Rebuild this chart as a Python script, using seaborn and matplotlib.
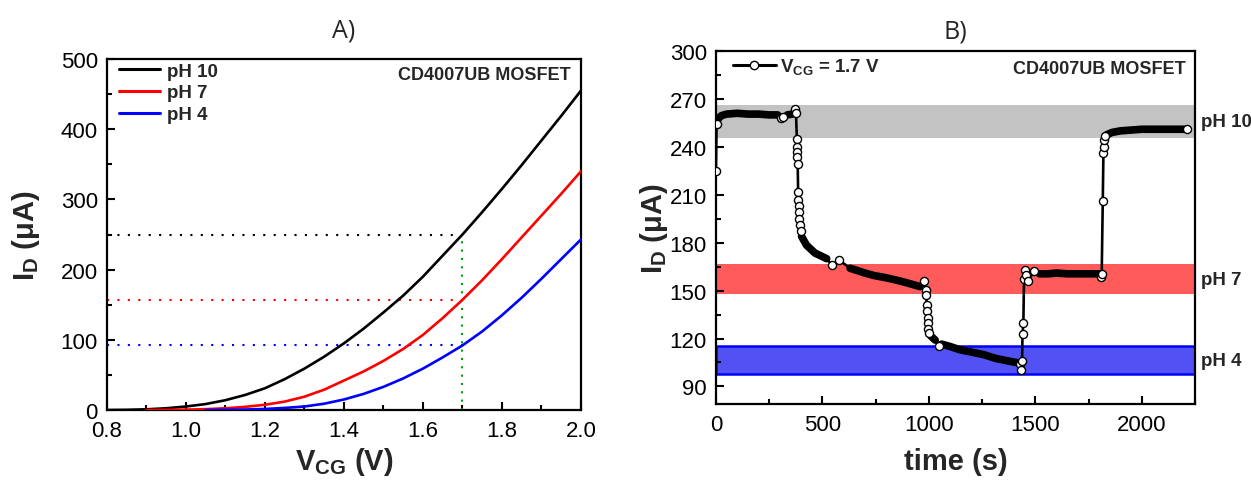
import numpy as np
import pandas as pd
import matplotlib
matplotlib.use("Agg")
import matplotlib.pyplot as plt
from matplotlib.lines import Line2D
from matplotlib.ticker import MultipleLocator
import matplotlib.transforms as mtransforms
import seaborn as sns

# ---------------- Panel A: transfer curves ----------------
v_cg = [0.80, 0.85, 0.90, 0.95, 1.00, 1.05, 1.10, 1.15, 1.20, 1.25, 1.30, 1.35, 1.40,
        1.45, 1.50, 1.55, 1.60, 1.65, 1.70, 1.75, 1.80, 1.85, 1.90, 1.95, 2.00]
id_ph10 = [0.0, 0.3, 1.0, 2.5, 5.0, 8.5, 14, 21.5, 31, 44, 59, 76, 95,
           116, 139, 163, 190, 220, 250, 282, 315, 349, 384, 419, 455]
id_ph7 = [np.nan, np.nan, 0.0, 0.2, 0.5, 1.2, 2.5, 4.5, 7.5, 12, 19, 29, 42,
          55, 70, 87, 107, 131, 157, 185, 215, 246, 277, 308, 340]
id_ph4 = [np.nan, np.nan, np.nan, np.nan, np.nan, 0.0, 0.3, 0.7, 1.5, 3, 5, 9, 15,
          23, 33, 45, 59, 75, 92, 112, 135, 160, 187, 215, 243]
ph_labels = ["pH 10", "pH 7", "pH 4"]
ph_colors = {"pH 10": "black", "pH 7": "#ff0000", "pH 4": "#0000ff"}
v_read = 1.7
id_at_read = [250, 157, 92]

# ---------------- Panel B: time trace at V_CG = 1.7 V ----------------
time_s = [0, 3, 10, 25, 50, 100, 150, 200, 250, 290, 305, 315, 335, 360, 372, 376,
          380, 381, 382, 383, 384, 386, 387, 388, 390, 392, 395, 398,
          402, 425, 465, 520, 545, 566, 580, 630, 700, 740, 800, 865, 920, 958,
          978, 985, 988, 990, 992, 994, 996, 998, 1001,
          1010, 1030, 1048, 1060, 1100, 1145, 1200, 1255, 1315, 1370, 1410,
          1430, 1435, 1438, 1440, 1444, 1447, 1450, 1455, 1465,
          1480, 1495, 1520, 1560, 1600, 1650, 1700, 1750, 1800,
          1808, 1812, 1817, 1820, 1822, 1824, 1827,
          1835, 1860, 1900, 1950, 2000, 2100, 2200, 2212]
current_uA = [225, 254, 257.5, 259.5, 260.5, 261, 260.5, 260.5, 260, 260, 258, 258.5, 260, 260.5, 263.5, 261,
              245, 240, 237, 233.5, 229, 212, 207, 203, 199, 195, 191, 187,
              184, 178.5, 173.5, 170, 166, 167, 169, 164, 161, 159.5, 158, 156, 154, 152.5,
              156, 150.5, 147, 141, 137, 133, 129.5, 126, 123.5,
              121.5, 119, 115, 116.5, 115, 113, 111.5, 110, 107.5, 106, 105,
              104, 100, 106, 123, 129.5, 157, 163, 160, 156,
              159, 162.5, 160.5, 160.5, 161, 160.5, 160.5, 160.5, 160.5,
              158.5, 160.5, 206, 236, 240, 244.5, 247,
              247.5, 249, 250, 250.5, 251, 251, 251, 251]
phase = (["transient"] * 2 + ["steady"] * 8 + ["transient"] * 2 + ["steady"] * 2 + ["transient"] * 14
         + ["steady"] * 4 + ["transient"] + ["steady"] + ["transient"] + ["steady"] * 7
         + ["transient"] * 9
         + ["steady"] * 2 + ["transient"] + ["steady"] * 8
         + ["transient"] * 9
         + ["steady"] + ["transient"] + ["steady"] * 7
         + ["transient"] * 7
         + ["steady"] * 7 + ["transient"])
band_labels = ["pH 10", "pH 7", "pH 4"]
band_low = [245.5, 148.0, 97.5]
band_high = [266.0, 166.5, 115.0]

# ---------------- style ----------------
sns.set_style("white")
plt.rcParams["font.family"] = ["Liberation Sans", "DejaVu Sans"]
plt.rcParams["mathtext.fontset"] = "custom"
plt.rcParams["mathtext.rm"] = "Liberation Sans"
plt.rcParams["mathtext.it"] = "Liberation Sans:italic"
plt.rcParams["mathtext.bf"] = "Liberation Sans:bold"

fig = plt.figure(figsize=(12.51, 4.81), dpi=100)
axA = fig.add_axes([0.0855, 0.1455, 0.3789, 0.7297])
axB = fig.add_axes([0.5723, 0.1580, 0.3829, 0.7339])

tick_fs = 16
label_fs = 21

# ---- Panel A ----
dfA = pd.DataFrame({
    "V": v_cg * 3,
    "I": id_ph10 + id_ph7 + id_ph4,
    "pH": [ph_labels[0]] * len(v_cg) + [ph_labels[1]] * len(v_cg) + [ph_labels[2]] * len(v_cg),
}).dropna()
sns.lineplot(data=dfA, x="V", y="I", hue="pH", hue_order=ph_labels, palette=ph_colors,
             estimator=None, sort=True, lw=1.9, ax=axA, zorder=3)

for lab, val in zip(ph_labels, id_at_read):
    axA.plot([0.8, v_read], [val, val], color=ph_colors[lab], lw=1.5,
             linestyle=(0, (1, 4)), zorder=2)
axA.plot([v_read, v_read], [0, id_at_read[0]], color="#00a000", lw=1.5,
         linestyle=(0, (1, 3)), zorder=2)

axA.set_xlim(0.8, 2.0)
axA.set_ylim(0, 500)
axA.xaxis.set_major_locator(MultipleLocator(0.2))
axA.xaxis.set_minor_locator(MultipleLocator(0.1))
axA.yaxis.set_major_locator(MultipleLocator(100))
axA.yaxis.set_minor_locator(MultipleLocator(50))

handles, labels = axA.get_legend_handles_labels()
for h in handles:
    h.set_linewidth(2.2)
axA.legend(handles, labels, loc="upper left", bbox_to_anchor=(0.025, 0.99), frameon=False,
           prop={"weight": "bold", "size": 13.5}, handlelength=2.2, handletextpad=0.35,
           labelspacing=0.25, borderaxespad=0, borderpad=0)
axA.text(0.979, 0.957, "CD4007UB MOSFET", transform=axA.transAxes, ha="right", va="center",
         fontsize=13, fontweight="bold")
axA.set_xlabel(r"$\mathbf{V_{CG}}$ (V)", fontsize=label_fs, fontweight="bold")
axA.set_ylabel(r"$\mathbf{I_D}$ (μA)", fontsize=label_fs, fontweight="bold")
axA.set_title("A)", fontsize=18, family=["Open Sans", "DejaVu Sans"], pad=16)

# ---- Panel B ----
for lo, hi, lab in zip(band_low, band_high, band_labels):
    if lab == "pH 10":
        axB.axhspan(lo, hi, facecolor="#c3c3c3", edgecolor="none", zorder=0)
    elif lab == "pH 7":
        axB.axhspan(lo, hi, facecolor="#ff5b5b", edgecolor="none", zorder=0)
    else:
        axB.axhspan(lo, hi, facecolor="#5252f4", edgecolor="#0000ff", lw=1.8, zorder=0)

trans = mtransforms.blended_transform_factory(axB.transAxes, axB.transData)
for lo, hi, lab in zip(band_low, band_high, band_labels):
    axB.text(1.012, (lo + hi) / 2, lab, transform=trans, ha="left", va="center",
             fontsize=13.5, fontweight="bold", clip_on=False)

dfB = pd.DataFrame({"time": time_s, "current": current_uA, "phase": phase})
dfB["run"] = (dfB["phase"] != dfB["phase"].shift()).cumsum()
sns.lineplot(data=dfB, x="time", y="current", estimator=None, sort=False, color="black",
             lw=1.9, ax=axB, zorder=3)
steady = dfB[dfB["phase"] == "steady"]
sns.lineplot(data=steady, x="time", y="current", units="run", estimator=None, sort=False,
             color="black", lw=5.5, ax=axB, zorder=4, solid_capstyle="round",
             solid_joinstyle="round")
transient = dfB[dfB["phase"] == "transient"]
sns.scatterplot(data=transient, x="time", y="current", marker="o", s=34, facecolor="white",
                edgecolor="black", linewidth=1.0, ax=axB, zorder=5)

axB.set_xlim(0, 2250)
axB.set_ylim(79, 300)
axB.xaxis.set_major_locator(MultipleLocator(500))
axB.xaxis.set_minor_locator(MultipleLocator(250))
axB.yaxis.set_major_locator(MultipleLocator(30))
axB.yaxis.set_minor_locator(MultipleLocator(15))

legB = [Line2D([], [], color="black", lw=2.2, marker="o", markersize=6,
               markerfacecolor="white", markeredgecolor="black", markeredgewidth=1)]
axB.legend(legB, [r"$\mathbf{V_{CG}}$ = 1.7 V"], loc="upper left", bbox_to_anchor=(0.035, 0.985),
           frameon=False, prop={"weight": "bold", "size": 13.5}, handlelength=2.3,
           handletextpad=0.2, borderaxespad=0, borderpad=0)
axB.text(0.981, 0.949, "CD4007UB MOSFET", transform=axB.transAxes, ha="right", va="center",
         fontsize=13, fontweight="bold")
axB.set_xlabel("time (s)", fontsize=label_fs, fontweight="bold")
axB.set_ylabel(r"$\mathbf{I_D}$ (μA)", fontsize=label_fs, fontweight="bold")
axB.set_title("B)", fontsize=18, family=["Open Sans", "DejaVu Sans"], pad=10)

for ax in (axA, axB):
    for s in ax.spines.values():
        s.set_visible(True)
        s.set_linewidth(1.6)
        s.set_color("black")
    ax.tick_params(which="both", direction="in", bottom=True, left=True, top=False,
                   right=False, colors="black", labelsize=tick_fs)
    ax.tick_params(which="major", length=6, width=1.5)
    ax.tick_params(which="minor", length=3.5, width=1.5)
    ax.tick_params(axis="x", which="major", pad=7)
    ax.tick_params(axis="y", which="major", pad=6.5)

axA.xaxis.set_label_coords(0.5, -0.168)
axA.xaxis.label.set_va("baseline")
axA.yaxis.set_label_coords(-0.17, 0.5)
axA.yaxis.label.set_va("center")
axB.xaxis.set_label_coords(0.5, -0.185)
axB.xaxis.label.set_va("baseline")
axB.yaxis.set_label_coords(-0.13, 0.5)
axB.yaxis.label.set_va("center")

fig.savefig("out.png", dpi=100)
